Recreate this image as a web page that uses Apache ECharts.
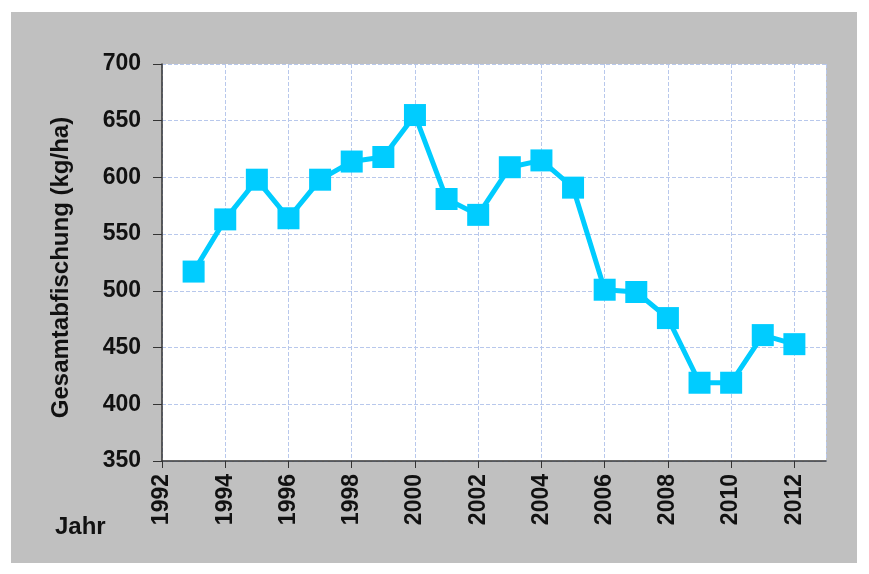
<!DOCTYPE html>
<html>
<head>
<meta charset="utf-8">
<script src="https://cdn.jsdelivr.net/npm/echarts@6/dist/echarts.min.js"></script>
<style>
  html, body { margin: 0; padding: 0; background: #fff; }
  #main { position: absolute; left: 11px; top: 12px; width: 846px; height: 551px; background: #c0c0c0; }
</style>
</head>
<body>
<div id="main"></div>
<script>
// Jahre und Gesamtabfischung (kg/ha)
const years = [1993, 1994, 1995, 1996, 1997, 1998, 1999, 2000, 2001, 2002,
               2003, 2004, 2005, 2006, 2007, 2008, 2009, 2010, 2011, 2012]
const catch_kg = [517, 563, 598, 564, 598, 614, 618, 655, 581, 567,
                  609, 615, 591, 501, 499, 476, 419, 419, 461, 453]
const yTicks = [350, 400, 450, 500, 550, 600, 650, 700]

const chart = echarts.init(document.getElementById('main'))

const labelFont = {
  color: '#111',
  fontFamily: 'Liberation Sans, Arial, sans-serif',
  fontWeight: 'bold',
  fontSize: 23
}

chart.setOption({
  animation: false,
  grid: {
    left: 151, top: 52, right: 31, bottom: 102,
    show: true, backgroundColor: '#fff', borderWidth: 0
  },
  xAxis: {
    type: 'value',
    min: 1992, max: 2013, interval: 2,
    axisLine: { show: true, onZero: false, lineStyle: { color: '#333', width: 1.5 } },
    axisTick: { show: true, length: 7, lineStyle: { color: '#333' } },
    axisLabel: Object.assign({
      rotate: 90, margin: 13, showMaxLabel: false,
      formatter: v => (v % 2 === 0 ? String(v) : '')
    }, labelFont),
    splitLine: { show: true, lineStyle: { color: '#b8c8ec', type: 'dashed', width: 1 } }
  },
  yAxis: {
    type: 'value',
    min: yTicks[0], max: yTicks[yTicks.length - 1], interval: 50,
    name: 'Gesamtabfischung (kg/ha)',
    nameLocation: 'middle', nameRotate: 90, nameGap: 89,
    nameTextStyle: Object.assign({}, labelFont, { fontSize: 24, padding: [0, 10, 0, 0] }),
    axisLine: { show: true, lineStyle: { color: '#333', width: 1.5 } },
    axisTick: { show: true, length: 9, lineStyle: { color: '#333' } },
    axisLabel: Object.assign({ margin: 21 }, labelFont),
    splitLine: { show: true, lineStyle: { color: '#b8c8ec', type: 'dashed', width: 1 } }
  },
  graphic: [{
    type: 'text', left: 44, top: 503,
    style: { text: 'Jahr', fill: '#111', font: 'bold 24px "Liberation Sans", Arial, sans-serif' }
  }],
  series: [{
    type: 'line',
    data: years.map((y, i) => [y, catch_kg[i]]),
    symbol: 'rect', symbolSize: 22,
    lineStyle: { color: '#00ccff', width: 5 },
    itemStyle: { color: '#00ccff' }
  }]
})
</script>
</body>
</html>
